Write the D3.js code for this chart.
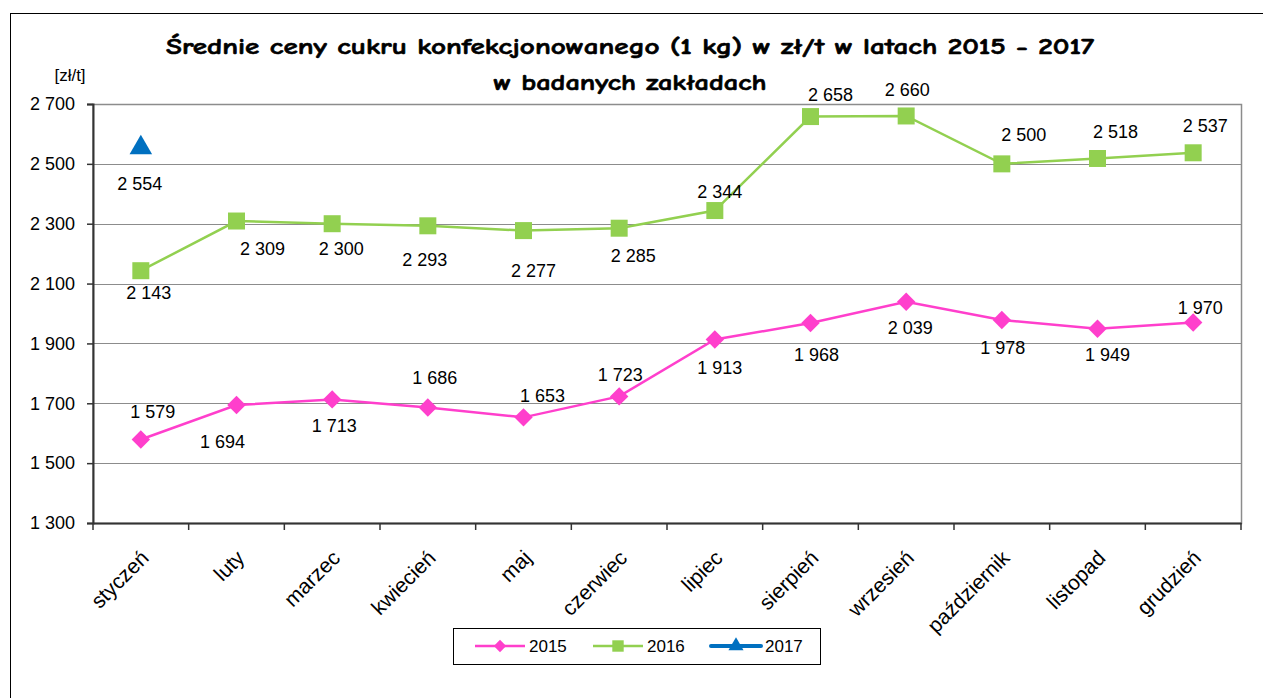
<!DOCTYPE html>
<html>
<head>
<meta charset="utf-8">
<script src="https://cdn.jsdelivr.net/npm/d3@7"></script>
<style>
  body { margin: 0; background: #fff; }
  svg text { font-family: Arial, "Liberation Sans", sans-serif; fill: #000; }
</style>
</head>
<body>
<div id="chart"></div>
<script>
// chart data
const months = ["styczeń", "luty", "marzec", "kwiecień", "maj", "czerwiec", "lipiec",
    "sierpień", "wrzesień", "październik", "listopad", "grudzień"];
const prices2015 = [1579, 1694, 1713, 1686, 1653, 1723, 1913, 1968, 2039, 1978, 1949, 1970];
const prices2016 = [2143, 2309, 2300, 2293, 2277, 2285, 2344, 2658, 2660, 2500, 2518, 2537];
const prices2017 = [2554];
const yTicks = [1300, 1500, 1700, 1900, 2100, 2300, 2500, 2700];

// label nudges (px) from each marker, as placed in the original chart
const nudge2015 = [[12, -28], [-14, 37], [2, 26], [7, -30], [19, -22], [1, -22],
    [5, 28], [6, 32], [4, 26], [1, 28], [10, 26], [7, -15]];
const nudge2016 = [[8, 22], [26, 28], [9, 25], [-3, 34], [10, 40], [14, 27],
    [5, -19], [20, -22], [1, -26], [22, -29], [18, -27], [12, -27]];
const nudge2017 = [[-1, 36]];

const width = 1263, height = 698;
const plot = {left: 93, right: 1241, top: 104, bottom: 523};

const svg = d3.select("#chart").append("svg")
    .attr("width", width)
    .attr("height", height);

// outer frame
svg.append("rect")
    .attr("x", 10.5).attr("y", 13.5)
    .attr("width", width).attr("height", height)
    .attr("fill", "none").attr("stroke", "#000").attr("stroke-width", 1);

const x = d3.scaleBand().domain(months).range([plot.left, plot.right]).padding(0);
const y = d3.scaleLinear().domain([1300, 2700]).range([plot.bottom, plot.top]);

const pl = d3.formatLocale({decimal: ",", thousands: " ", grouping: [3], currency: ["", " zł"]});
const fmt = pl.format(",d");

// title
const title = svg.append("text")
    .attr("text-anchor", "middle")
    .style("font-family", "'Comic Sans MS', 'Comic Neue', 'DejaVu Sans', sans-serif")
    .style("font-weight", "bold")
    .style("font-size", "22px")
    .style("stroke", "#000")
    .style("stroke-width", 0.6);
title.append("tspan").attr("x", 630).attr("y", 54)
    .attr("textLength", 928).attr("lengthAdjust", "spacingAndGlyphs")
    .text("Średnie ceny cukru konfekcjonowanego (1 kg) w zł/t w latach 2015 - 2017");
title.append("tspan").attr("x", 630).attr("y", 90)
    .attr("textLength", 273).attr("lengthAdjust", "spacingAndGlyphs")
    .text("w badanych zakładach");

// unit label
svg.append("text")
    .attr("x", 70).attr("y", 81)
    .attr("text-anchor", "middle")
    .style("font-family", "'Liberation Sans Narrow', Arial, sans-serif")
    .style("font-size", "17px")
    .text("[zł/t]");

// gridlines
svg.append("g")
    .selectAll("line")
    .data(yTicks)
    .enter().append("line")
    .attr("x1", plot.left).attr("x2", plot.right)
    .attr("y1", d => Math.round(y(d)) + 0.5).attr("y2", d => Math.round(y(d)) + 0.5)
    .attr("stroke", "#8c8c8c").attr("stroke-width", 1);

// plot area border (right and top)
svg.append("rect")
    .attr("x", plot.left).attr("y", plot.top + 0.5)
    .attr("width", plot.right - plot.left + 0.5).attr("height", plot.bottom - plot.top)
    .attr("fill", "none").attr("stroke", "#8c8c8c").attr("stroke-width", 1.5);

// y axis
const yAxis = svg.append("g")
    .attr("transform", `translate(${plot.left},0)`)
    .call(d3.axisLeft(y).tickValues(yTicks).tickFormat(fmt).tickSize(6).tickPadding(12));
yAxis.select(".domain").attr("stroke", "#333").attr("stroke-width", 2);
yAxis.selectAll(".tick line").attr("stroke", "#333").attr("stroke-width", 1.5);
yAxis.selectAll(".tick text").style("font-size", "18px").attr("fill", "#000");

// x axis
const xAxis = svg.append("g")
    .attr("transform", `translate(0,${plot.bottom})`)
    .call(d3.axisBottom(x).tickSize(0).tickPadding(0));
xAxis.select(".domain").attr("stroke", "#333").attr("stroke-width", 2);
xAxis.selectAll(".tick text")
    .style("font-size", "21px")
    .attr("text-anchor", "end")
    .attr("transform", "translate(4,31) rotate(-45)")
    .attr("dy", "0.35em")
    .attr("y", 0);
xAxis.selectAll(".boundary")
    .data(d3.range(months.length + 1))
    .enter().append("line")
    .attr("class", "boundary")
    .attr("x1", i => plot.left + i * x.step()).attr("x2", i => plot.left + i * x.step())
    .attr("y1", 0).attr("y2", 7)
    .attr("stroke", "#333").attr("stroke-width", 1.5);

const series = [
    {name: "2015", values: prices2015, nudge: nudge2015, color: "#ff3fcc", symbol: d3.symbolSquare, rot: 45, size: 170, lw: 2.5},
    {name: "2016", values: prices2016, nudge: nudge2016, color: "#92d050", symbol: d3.symbolSquare, rot: 0, size: 289, lw: 2.5},
    {name: "2017", values: prices2017, nudge: nudge2017, color: "#0070c0", symbol: d3.symbolTriangle, rot: 0, size: 220, lw: 4}
];

const cx = i => x(months[i]) + x.bandwidth() / 2;

const line = d3.line()
    .x((d, i) => cx(i))
    .y(d => y(d));

series.forEach(s => {
    const g = svg.append("g");
    g.append("path")
        .datum(s.values)
        .attr("d", line)
        .attr("fill", "none")
        .attr("stroke", s.color)
        .attr("stroke-width", s.lw);

    g.selectAll(".marker")
        .data(s.values)
        .enter().append("path")
        .attr("class", "marker")
        .attr("d", d3.symbol().type(s.symbol).size(s.size))
        .attr("transform", (d, i) => `translate(${cx(i)},${y(d)}) rotate(${s.rot})`)
        .attr("fill", s.color);

    g.selectAll(".label")
        .data(s.values)
        .enter().append("text")
        .attr("class", "label")
        .attr("x", (d, i) => cx(i) + s.nudge[i][0])
        .attr("y", (d, i) => y(d) + s.nudge[i][1])
        .attr("dy", "0.35em")
        .attr("text-anchor", "middle")
        .style("font-size", "18px")
        .text(d => fmt(d));
});

// legend
const legend = svg.append("g").attr("transform", "translate(453,628)");
legend.append("rect")
    .attr("x", 0.5).attr("y", 0.5)
    .attr("width", 367).attr("height", 36)
    .attr("fill", "#fff").attr("stroke", "#000").attr("stroke-width", 1);

const legendItems = legend.selectAll(".item")
    .data(series)
    .enter().append("g")
    .attr("class", "item")
    .attr("transform", (d, i) => `translate(${22 + i * 118},18)`);
legendItems.append("line")
    .attr("x1", 0).attr("x2", 50)
    .attr("stroke", d => d.color)
    .attr("stroke-width", d => d.lw)
    .attr("stroke-linecap", d => d.name === "2017" ? "round" : "butt");
legendItems.append("path")
    .attr("d", d => d3.symbol().type(d.symbol).size(d.size * 0.45)())
    .attr("transform", d => `translate(25,0) rotate(${d.rot})`)
    .attr("fill", d => d.color);
legendItems.append("text")
    .attr("x", 54).attr("dy", "0.35em")
    .style("font-size", "17px")
    .text(d => d.name);
</script>
</body>
</html>
